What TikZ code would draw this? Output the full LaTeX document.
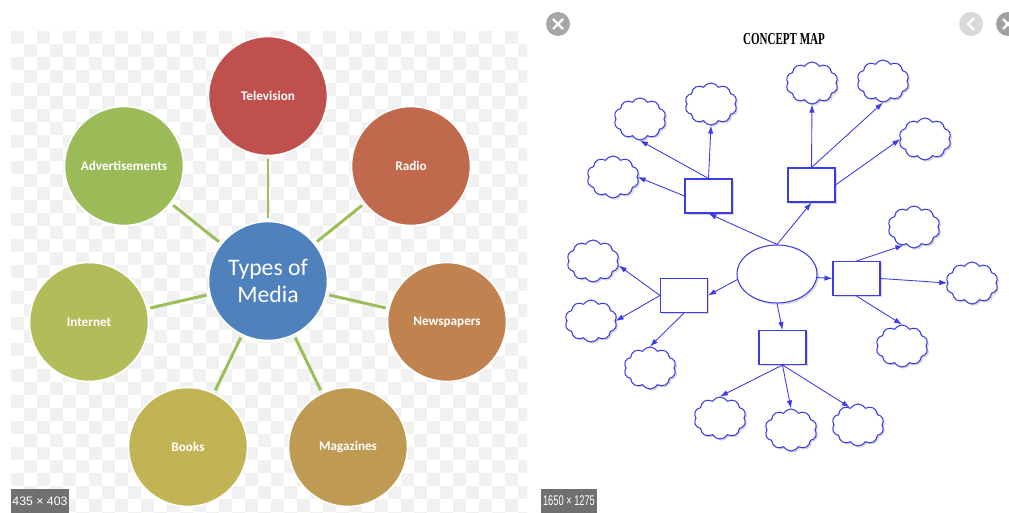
\documentclass[tikz,border=0pt]{standalone}
\usepackage{fontspec}
\usepackage{graphicx}
\usetikzlibrary{shapes.geometric, shapes.symbols, shadows, arrows.meta}
\newfontfamily\calibrifont{Carlito}
\newfontfamily\timesfont{Liberation Serif}
\newfontfamily\arialfont{Liberation Sans}
\definecolor{tvred}{RGB}{192, 80, 77}
\definecolor{radiored}{RGB}{192, 105, 76}
\definecolor{paperorange}{RGB}{192, 131, 80}
\definecolor{magbrown}{RGB}{191, 154, 83}
\definecolor{bookolive}{RGB}{194, 180, 85}
\definecolor{netlime}{RGB}{178, 189, 90}
\definecolor{adgreen}{RGB}{155, 187, 89}
\definecolor{hubblue}{RGB}{79, 129, 189}
\definecolor{spokegreen}{RGB}{155, 190, 90}
\definecolor{checker}{RGB}{241, 241, 241}
\definecolor{mapblue}{RGB}{60, 60, 230}
\definecolor{badgegray}{RGB}{112, 112, 112}

\begin{document}
\begin{tikzpicture}[
	x=0.02cm, y=-0.02cm,
	% Styles for the media wheel
	media/.style={circle, draw=white, line width=0.9pt, minimum size=2.38cm, inner sep=0pt,
		text=white, font=\calibrifont\bfseries\fontsize{7.5}{9}\selectfont},
	hub/.style={media, fill=hubblue, align=center, font=\calibrifont\fontsize{13.5}{15.3}\selectfont},
	spoke/.style={draw=spokegreen, line width=1.7pt, shorten <=1.5pt, shorten >=1.5pt},
	% Styles for the concept map
	cmshadow/.style={drop shadow={shadow xshift=1pt, shadow yshift=-1pt, fill=black!40, opacity=0.4}},
	conceptbox/.style={rectangle, draw=mapblue, line width=0.6pt, fill=white,
		minimum width=0.94cm, minimum height=0.68cm, inner sep=0pt, cmshadow},
	bubble/.style={cloud, cloud puffs=10, cloud puff arc=120, aspect=1.24, draw=mapblue,
		line width=0.6pt, fill=white, minimum width=1.04cm, minimum height=0.84cm, inner sep=0pt, cmshadow},
	maplink/.style={draw=mapblue, line width=0.5pt, -{Latex[length=1.6mm, width=1.1mm]}},
	badge/.style={fill=badgegray, text=white, inner sep=0pt, minimum height=0.48cm,
		font=\arialfont\fontsize{7}{8}\selectfont}
	]
	\useasboundingbox (0,0) rectangle (1009,513);
	
	% ==========================================
	% 1. CHECKERED BACKGROUND
	% ==========================================
	\begin{scope}
		\clip (11,31) rectangle (527,513);
		\foreach \i in {0,...,39}{
			\foreach \j in {0,...,37}{
				\pgfmathtruncatemacro\k{mod(\i+\j,2)}
				\ifnum\k=0 \fill[checker] ({11+13*\i},{31+13*\j}) rectangle ++(13,13); \fi
			}
		}
	\end{scope}
	
	% ==========================================
	% 2. TYPES OF MEDIA WHEEL
	% ==========================================
	\node[hub] (hub) at (268,281) {Types of\\Media};
	\node[media, fill=tvred] (tv) at (268,96) {Television};
	\node[media, fill=radiored] (radio) at (411,166) {Radio};
	\node[media, fill=paperorange] (papers) at (447,322) {Newspapers};
	\node[media, fill=magbrown] (mags) at (348,447) {Magazines};
	\node[media, fill=bookolive] (books) at (188,447) {Books};
	\node[media, fill=netlime] (net) at (89,322) {Internet};
	\node[media, fill=adgreen] (ads) at (124,166) {Advertisements};
	
	\foreach \n in {tv, radio, papers, mags, books, net, ads}
		\draw[spoke] (hub) -- (\n);
	
	% Image size badge
	\node[badge, minimum width=1.16cm] (leftsize) at (40,501) {435 × 403};
	
	% ==========================================
	% 3. CONCEPT MAP
	% ==========================================
	\node[font=\timesfont\bfseries\fontsize{9.5}{11}\selectfont] (maptitle) at (784,39) {\scalebox{0.66}[1]{CONCEPT MAP}};
	
	% Central ellipse and the five boxes
	\node[ellipse, draw=mapblue, line width=0.6pt, fill=white, minimum width=1.6cm, minimum height=1.16cm,
		inner sep=0pt, cmshadow] (core) at (777,274) {};
	\node[conceptbox] (boxtl) at (708.5,196) {};
	\node[conceptbox] (boxtr) at (811.5,185) {};
	\node[conceptbox] (boxr) at (856.5,278.5) {};
	\node[conceptbox] (boxb) at (782.5,347.5) {};
	\node[conceptbox] (boxl) at (684,295.5) {};
	
	% Clouds, three per box
	\node[bubble] (cloudtla) at (640,119) {};
	\node[bubble] (cloudtlb) at (711,104) {};
	\node[bubble] (cloudtlc) at (613,177) {};
	\node[bubble] (cloudtra) at (812,83) {};
	\node[bubble] (cloudtrb) at (883,81) {};
	\node[bubble] (cloudtrc) at (925,139) {};
	\node[bubble] (cloudra) at (914,227) {};
	\node[bubble] (cloudrb) at (972,283) {};
	\node[bubble] (cloudrc) at (902,346) {};
	\node[bubble] (cloudla) at (593,261) {};
	\node[bubble] (cloudlb) at (591,321) {};
	\node[bubble] (cloudlc) at (650,368) {};
	\node[bubble] (cloudba) at (720,418) {};
	\node[bubble] (cloudbb) at (791,430) {};
	\node[bubble] (cloudbc) at (858,425) {};
	
	% Ellipse to boxes
	\draw[maplink] (core.north) -- (boxtl.south);
	\draw[maplink] (core.north) -- (boxtr.south);
	\draw[maplink] (core.-5) -- (boxr.west);
	\draw[maplink] (core.south) -- (boxb.north);
	\draw[maplink] (core.188) -- (boxl.east);
	
	% Boxes to clouds
	\draw[maplink] (boxtl.north) -- (cloudtlb.south);
	\draw[maplink] (boxtl.north) -- (cloudtla.south);
	\draw[maplink] (boxtl.west) -- (cloudtlc.east);
	\draw[maplink] (boxtr.north) -- (cloudtra.south);
	\draw[maplink] (boxtr.north) -- (cloudtrb.south);
	\draw[maplink] (boxtr.east) -- (cloudtrc.west);
	\draw[maplink] (boxr.north) -- (cloudra.240);
	\draw[maplink] (boxr.east) -- (cloudrb.west);
	\draw[maplink] (boxr.south) -- (cloudrc.north);
	\draw[maplink] (boxl.west) -- (cloudla.-10);
	\draw[maplink] (boxl.west) -- (cloudlb.east);
	\draw[maplink] (boxl.south) -- (cloudlc.north);
	\draw[maplink] (boxb.south) -- (cloudba.north);
	\draw[maplink] (boxb.south) -- (cloudbb.north);
	\draw[maplink] (boxb.south) -- (cloudbc.115);
	
	% Image size badge
	\node[badge, minimum width=1.12cm, font=\arialfont\fontsize{8}{9}\selectfont] (rightsize) at (569,501) {\scalebox{0.66}[1]{1650 × 1275}};
	
	% ==========================================
	% 4. VIEWER BUTTONS
	% ==========================================
	\fill[black!35] (558,24) circle (12);
	\draw[white, line width=1.3pt] (553,19) -- (563,29) (553,29) -- (563,19);
	\fill[black!15] (971,24) circle (12);
	\draw[white, line width=1.3pt] (974,18) -- (968,24) -- (974,30);
	\fill[black!37] (1008,24) circle (12);
	\draw[white, line width=1.3pt] (1003,19) -- (1013,29) (1003,29) -- (1013,19);
	
\end{tikzpicture}
\end{document}
